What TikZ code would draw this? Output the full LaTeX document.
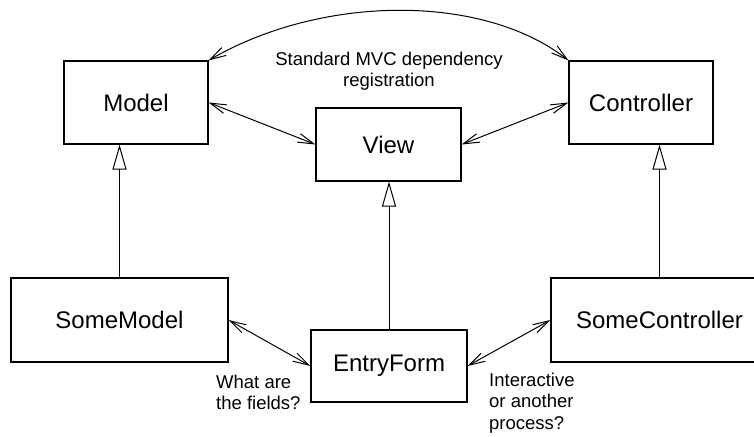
\documentclass[tikz,border=0pt]{standalone}
\usepackage{fontspec}
\setmainfont{Liberation Sans}
\usetikzlibrary{arrows.meta}
\begin{document}
\begin{tikzpicture}[x=1pt,y=-1pt,
  box/.style={draw, line width=1.1pt, rectangle, inner sep=0pt, font=\fontsize{24}{28}\selectfont},
  lbl/.style={inner sep=0pt, font=\fontsize{18.5}{21.5}\selectfont},
  dbl/.style={line width=1pt, {Straight Barb[length=16pt,width=9pt]}-{Straight Barb[length=16pt,width=9pt]}},
  inherit/.style={line width=1pt, -{Triangle[open,length=25pt,width=14pt]}}]
\useasboundingbox (0,0) rectangle (754,436);
\clip (0,0) rectangle (754,436);
\node[box, minimum width=144pt, minimum height=83pt] (Model) at (136,102.5) {Model};
\node[box, minimum width=144pt, minimum height=83pt] (Controller) at (641,102.5) {Controller};
\node[box, minimum width=145pt, minimum height=73pt] (View) at (388.5,144.5) {View};
\node[box, minimum width=217pt, minimum height=84pt] (SomeModel) at (119.5,320) {SomeModel};
\node[box, minimum width=156pt, minimum height=72pt] (EntryForm) at (389,366) {EntryForm};
\node[box, minimum width=217pt, minimum height=84pt] (SomeController) at (659.5,320) {SomeController};
\node[lbl, align=center] (std) at (389,71) {Standard MVC dependency\\registration};
\node[lbl, align=left, anchor=west] (fields) at (216,392.5) {What are\\the fields?};
\node[lbl, align=left, anchor=west] (inter) at (489,403) {Interactive\\or another\\process?};
\coordinate (c1) at (323,-6);
\coordinate (c2) at (484,-6);
\draw[dbl] (Model.north east) .. controls (c1) and (c2) .. (Controller.north west);
\draw[dbl] (Model.east) -- (View.west);
\draw[dbl] (View.east) -- (Controller.west);
\draw[dbl] (SomeModel.east) -- (EntryForm.west);
\draw[dbl] (EntryForm.east) -- (SomeController.west);
\draw[inherit] (SomeModel.north) -- (SomeModel.north |- Model.south);
\draw[inherit] (EntryForm.north) -- (EntryForm.north |- View.south);
\draw[inherit] (SomeController.north) -- (SomeController.north |- Controller.south);
\end{tikzpicture}
\end{document}
